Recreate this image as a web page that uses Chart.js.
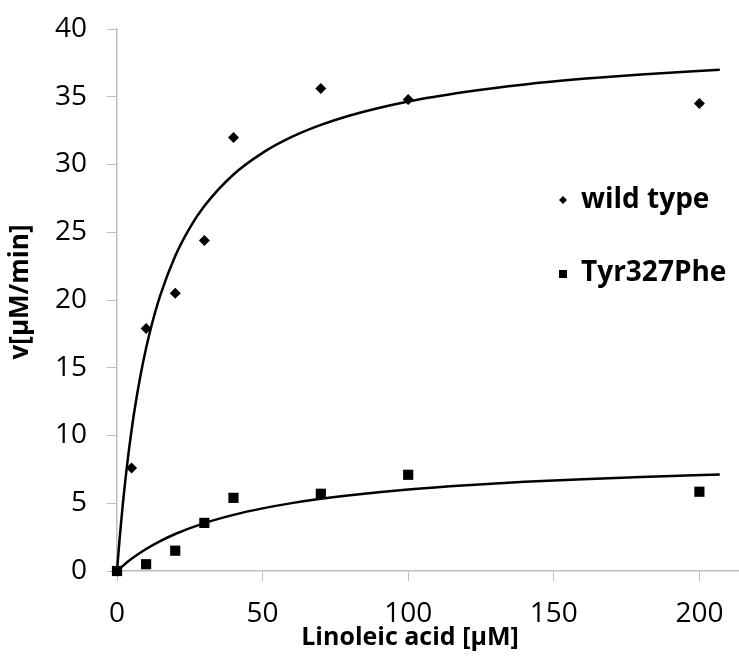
<!DOCTYPE html>
<html lang="en">

<head>
    <meta charset="UTF-8">
    <meta name="viewport" content="width=device-width, initial-scale=1.0">
    <script src="https://cdn.jsdelivr.net/npm/chart.js@4.4.0/dist/chart.umd.min.js"></script>
    <style>
        html, body { margin: 0; padding: 0; background: #fff; }
        #wrap { width: 739px; height: 657px; }
    </style>
</head>

<body>
    <div id="wrap"><canvas id="myChart" width="739" height="657"></canvas></div>
    <script>
        // measured rates, linoleic acid concentration in µM
        const substrate = [0, 5, 10, 20, 30, 40, 70, 100, 200];
        const wildType = [0, 7.6, 17.9, 20.5, 24.4, 32.0, 35.6, 34.8, 34.5];
        const mutantSubstrate = [0, 10, 20, 30, 40, 70, 100, 200];
        const mutant = [0, 0.5, 1.5, 3.55, 5.4, 5.7, 7.1, 5.85];

        // fitted saturation curves
        const fitWildX = [0, 1, 2, 3, 4, 5, 6, 8, 10, 12, 15, 20, 25, 30, 40, 50, 60, 70, 80, 100, 120, 140, 160, 180, 207];
        const fitWildY = [0, 2.63, 4.94, 6.97, 8.78, 10.39, 11.85, 14.36, 16.46, 18.23, 20.43, 23.24, 25.32, 26.93, 29.26, 30.86, 32.03, 32.92, 33.62, 34.65, 35.37, 35.91, 36.32, 36.65, 37.0];
        const fitMutX = [0, 2, 5, 10, 15, 20, 30, 40, 50, 60, 70, 80, 100, 120, 140, 160, 180, 207];
        const fitMutY = [0, 0.38, 0.90, 1.62, 2.22, 2.73, 3.53, 4.14, 4.62, 5.01, 5.33, 5.59, 6.01, 6.33, 6.58, 6.78, 6.94, 7.12];

        const xTicks = [0, 50, 100, 150, 200];
        const legendLabels = ['wild type', 'Tyr327Phe'];
        const xTitle = 'Linoleic acid [μM]';
        const yTitle = 'v[μM/min]';

        const pts = (xs, ys) => xs.map((x, i) => ({ x: x, y: ys[i] }));

        // legend and axis titles drawn by hand so they can sit inside / off-centre
        const extras = {
            id: 'extras',
            afterDraw(chart) {
                const ctx = chart.ctx;
                ctx.save();
                ctx.fillStyle = '#000';
                ctx.font = 'bold 28px "Open Sans"';
                ctx.textBaseline = 'middle';
                ctx.textAlign = 'left';

                // diamond
                ctx.beginPath();
                ctx.moveTo(563, 196);
                ctx.lineTo(567, 200);
                ctx.lineTo(563, 204);
                ctx.lineTo(559, 200);
                ctx.closePath();
                ctx.fill();
                ctx.fillText(legendLabels[0], 581, 200);

                // square
                ctx.fillRect(559, 270, 8, 8);
                ctx.fillText(legendLabels[1], 581, 273);

                ctx.textAlign = 'center';
                ctx.font = 'bold 25px "Open Sans"';
                ctx.fillText(xTitle, 410, 638);

                ctx.font = 'bold 26px "Open Sans"';
                ctx.translate(21, 292);
                ctx.rotate(-Math.PI / 2);
                ctx.fillText(yTitle, 0, 0);
                ctx.restore();
            }
        };

        const ctx = document.getElementById('myChart');

        new Chart(ctx, {
            type: 'scatter',
            data: {
                datasets: [
                    {
                        label: 'fit wild type',
                        data: pts(fitWildX, fitWildY),
                        showLine: true,
                        borderColor: '#000',
                        borderWidth: 2.5,
                        pointRadius: 0,
                        cubicInterpolationMode: 'monotone',
                        clip: false,
                        order: 3
                    },
                    {
                        label: 'fit Tyr327Phe',
                        data: pts(fitMutX, fitMutY),
                        showLine: true,
                        borderColor: '#000',
                        borderWidth: 2.5,
                        pointRadius: 0,
                        cubicInterpolationMode: 'monotone',
                        clip: false,
                        order: 3
                    },
                    {
                        label: legendLabels[0],
                        data: pts(substrate, wildType),
                        pointStyle: 'rectRot',
                        pointRadius: 5.5,
                        backgroundColor: '#000',
                        borderColor: '#000',
                        borderWidth: 0,
                        clip: false,
                        order: 2
                    },
                    {
                        label: legendLabels[1],
                        data: pts(mutantSubstrate, mutant),
                        pointStyle: 'rect',
                        pointRadius: 7.2,
                        backgroundColor: '#000',
                        borderColor: '#000',
                        borderWidth: 0,
                        clip: false,
                        order: 1
                    }
                ]
            },
            options: {
                responsive: false,
                animation: false,
                layout: {
                    autoPadding: false,
                    padding: { top: 29, right: 0, left: 0, bottom: 0 }
                },
                plugins: {
                    legend: { display: false },
                    tooltip: { enabled: false }
                },
                scales: {
                    x: {
                        type: 'linear',
                        min: 0,
                        max: 213.6,
                        afterBuildTicks: (s) => { s.ticks = xTicks.map(v => ({ value: v })); },
                        afterFit: (s) => {
                            s.height = 86;
                            s.paddingLeft = 0;
                            s.paddingRight = 0;
                        },
                        grid: {
                            drawOnChartArea: false,
                            drawTicks: true,
                            tickLength: 10,
                            color: '#bfbfbf'
                        },
                        border: { color: '#bfbfbf', width: 1.5 },
                        ticks: {
                            padding: 16,
                            color: '#000',
                            font: { family: 'Open Sans', size: 28 }
                        }
                    },
                    y: {
                        min: 0,
                        max: 40,
                        ticks: {
                            stepSize: 5,
                            padding: 20,
                            color: '#000',
                            font: { family: 'Open Sans', size: 28 }
                        },
                        afterFit: (s) => {
                            s.width = 117;
                            s.paddingTop = 0;
                            s.paddingBottom = 0;
                        },
                        grid: {
                            drawOnChartArea: false,
                            drawTicks: true,
                            tickLength: 10,
                            color: '#bfbfbf'
                        },
                        border: { color: '#bfbfbf', width: 1.5 }
                    }
                }
            },
            plugins: [extras]
        });
    </script>
</body>

</html>
